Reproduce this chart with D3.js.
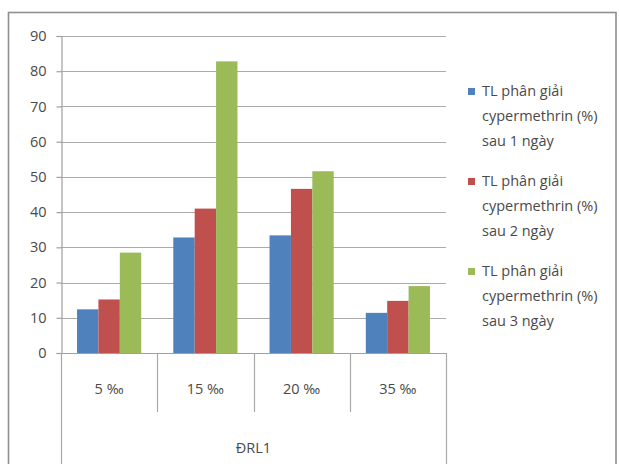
<!DOCTYPE html>
<html>
<head>
<meta charset="utf-8">
<script src="https://cdn.jsdelivr.net/npm/d3@7"></script>
<style>
  html, body { margin: 0; padding: 0; background: #fff; }
  svg { display: block; }
  text { font-family: "Open Sans", "DejaVu Sans", sans-serif; fill: #4a4a4a; }
</style>
</head>
<body>
<svg id="chart" width="619" height="464"></svg>
<script>
// Salinity levels (‰) for strain ĐRL1
const categories = ["5 ‰", "15 ‰", "20 ‰", "35 ‰"];
const groupLabel = "ĐRL1";

// Cypermethrin degradation rate (%) after 1, 2 and 3 days
const day1 = [12.4, 32.8, 33.4, 11.4];
const day2 = [15.2, 41.0, 46.6, 14.8];
const day3 = [28.5, 82.8, 51.6, 19.0];

const seriesNames = [
  ["TL phân giải", "cypermethrin (%)", "sau 1 ngày"],
  ["TL phân giải", "cypermethrin (%)", "sau 2 ngày"],
  ["TL phân giải", "cypermethrin (%)", "sau 3 ngày"]
];
const seriesColors = ["#4F81BD", "#C0504D", "#9BBB59"];
const yTicks = [0, 10, 20, 30, 40, 50, 60, 70, 80, 90];

const series = [day1, day2, day3];

const svg = d3.select("#chart");

// outer chart frame
svg.append("rect")
  .attr("x", 8.5).attr("y", 12.5)
  .attr("width", 607.5).attr("height", 470)
  .attr("fill", "none").attr("stroke", "#8f8f8f").attr("stroke-width", 1.6);

const plot = { left: 61, right: 446, top: 36, bottom: 353 };

const x0 = d3.scaleBand()
  .domain(categories)
  .range([plot.left, plot.right])
  .paddingInner(0).paddingOuter(0);

const bw = x0.bandwidth();
const x1 = d3.scaleBand()
  .domain(d3.range(series.length))
  .range([bw / 6, bw - bw / 6])
  .padding(0);

const y = d3.scaleLinear().domain([0, 90]).range([plot.bottom, plot.top]);

// horizontal gridlines
svg.append("g")
  .selectAll("line")
  .data(yTicks.filter(d => d > 0))
  .join("line")
  .attr("x1", plot.left).attr("x2", plot.right)
  .attr("y1", d => Math.round(y(d)) + 0.5).attr("y2", d => Math.round(y(d)) + 0.5)
  .attr("stroke", "#ababab").attr("stroke-width", 1.2);

// y axis
const yAxis = svg.append("g")
  .attr("transform", `translate(${plot.left + 0.5},0)`)
  .call(d3.axisLeft(y).tickValues(yTicks).tickSize(5).tickPadding(10));
yAxis.select(".domain").attr("stroke", "#a0a0a0").attr("stroke-width", 1.2);
yAxis.selectAll(".tick line").attr("stroke", "#a0a0a0").attr("stroke-width", 1.2);
yAxis.selectAll(".tick text")
  .attr("font-size", 14.5)
  .style("font-family", "'Open Sans', sans-serif")
  .attr("fill", "#4a4a4a");

// bars
const groups = svg.append("g")
  .selectAll("g")
  .data(categories)
  .join("g")
  .attr("transform", d => `translate(${x0(d)},0)`);

groups.selectAll("rect")
  .data((d, i) => series.map((s, k) => ({ k, v: s[i] })))
  .join("rect")
  .attr("x", d => x1(d.k))
  .attr("width", x1.bandwidth())
  .attr("y", d => y(d.v))
  .attr("height", d => y(0) - y(d.v))
  .attr("fill", d => seriesColors[d.k]);

// category axis baseline
svg.append("line")
  .attr("x1", plot.left).attr("x2", plot.right)
  .attr("y1", plot.bottom + 0.5).attr("y2", plot.bottom + 0.5)
  .attr("stroke", "#a0a0a0").attr("stroke-width", 1.2);

// multi-level category dividers
const inner = categories.slice(1).map(c => x0(c));
svg.append("g").selectAll("line")
  .data(inner)
  .join("line")
  .attr("x1", d => Math.round(d) + 0.5).attr("x2", d => Math.round(d) + 0.5)
  .attr("y1", plot.bottom).attr("y2", 412)
  .attr("stroke", "#a8a8a8").attr("stroke-width", 1.2);

svg.append("g").selectAll("line")
  .data([plot.left, plot.right])
  .join("line")
  .attr("x1", d => d + 0.5).attr("x2", d => d + 0.5)
  .attr("y1", plot.bottom).attr("y2", 470)
  .attr("stroke", "#a8a8a8").attr("stroke-width", 1.2);

// category labels
svg.append("g").selectAll("text")
  .data(categories)
  .join("text")
  .attr("x", d => x0(d) + bw / 2)
  .attr("y", 394)
  .attr("text-anchor", "middle")
  .attr("font-size", 14.5)
  .text(d => d);

svg.append("text")
  .attr("x", (plot.left + plot.right) / 2)
  .attr("y", 453)
  .attr("text-anchor", "middle")
  .attr("font-size", 14.5)
  .text(groupLabel);

// legend
const legend = svg.append("g");
seriesNames.forEach((lines, k) => {
  const top = 96 + k * 90;
  legend.append("rect")
    .attr("x", 468).attr("y", top - 8)
    .attr("width", 7).attr("height", 7)
    .attr("fill", seriesColors[k]);
  lines.forEach((ln, j) => {
    legend.append("text")
      .attr("x", 482)
      .attr("y", top + j * 25)
      .attr("font-size", 14.5)
      .text(ln);
  });
});
</script>
</body>
</html>
